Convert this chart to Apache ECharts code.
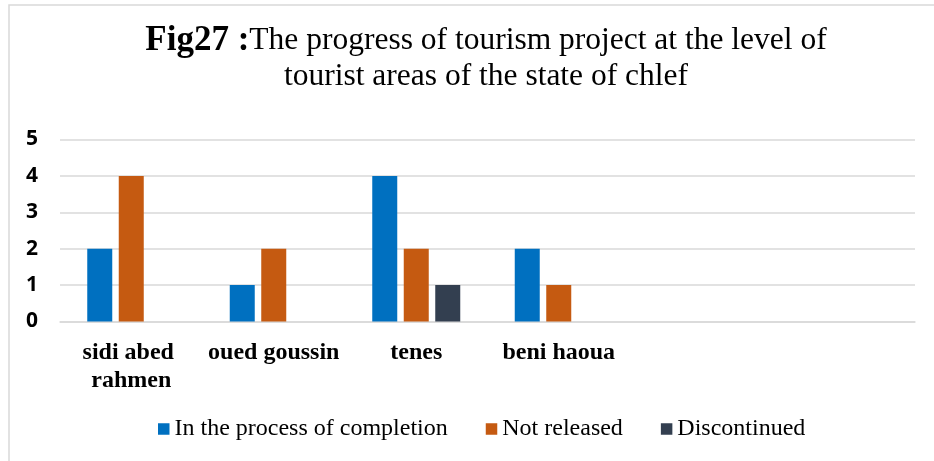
<!DOCTYPE html>
<html>
<head>
<meta charset="utf-8">
<script src="https://cdn.jsdelivr.net/npm/echarts@6/dist/echarts.min.js"></script>
<style>
  html, body { margin: 0; padding: 0; background: #ffffff; }
  #chart { width: 934px; height: 461px; }
</style>
</head>
<body>
<div id="chart"></div>
<script>
// Tourist areas (the last two slots are left empty on the axis)
const areas = ['sidi abed rahmen', 'oued goussin', 'tenes', 'beni haoua', '', ''];

// Number of projects per status
const inProgress   = [2, 1, 4, 2, null, null];
const notReleased  = [4, 2, 2, 1, null, null];
const discontinued = [null, null, 1, null, null, null];

const seriesNames = ['In the process of completion', 'Not released', 'Discontinued'];
const seriesColors = ['#0070C0', '#C55A11', '#333F50'];

const yTicks = { min: 0, max: 5, interval: 1 };

const serif = '"Liberation Serif", "Times New Roman", serif';

const chart = echarts.init(document.getElementById('chart'), null, { renderer: 'canvas' });

function barSeries(name, data, color) {
  return {
    name: name,
    type: 'bar',
    data: data,
    barWidth: 25,
    barGap: '26%',
    itemStyle: { color: color },
    emphasis: { disabled: true }
  };
}

chart.setOption({
  animation: false,
  backgroundColor: '#ffffff',
  graphic: [{
    type: 'rect',
    silent: true,
    shape: { x: 9, y: 5, width: 1200, height: 1200 },
    style: { fill: 'none', stroke: '#d9d9d9', lineWidth: 1.5 }
  }],
  title: {
    text: '{b|Fig27 :}{r|The progress of tourism project at the level of}\n{r|tourist areas of the state of chlef}',
    left: 486,
    top: 23,
    padding: 0,
    textAlign: 'center',
    textStyle: {
      fontFamily: serif,
      color: '#000',
      rich: {
        b: { fontFamily: serif, fontSize: 35, fontWeight: 'bold', color: '#000', lineHeight: 36 },
        r: { fontFamily: serif, fontSize: 31.5, fontWeight: 'normal', color: '#000', lineHeight: 36 }
      }
    }
  },
  legend: {
    data: seriesNames,
    left: 158,
    top: 417,
    padding: 0,
    itemWidth: 11.5,
    itemHeight: 11.5,
    itemGap: 38,
    icon: 'rect',
    selectedMode: false,
    textStyle: { fontFamily: serif, fontSize: 24, color: '#000', padding: [0, 0, 0, 0] }
  },
  grid: { left: 60, right: 19, top: 139.5, bottom: 139.5, containLabel: false },
  xAxis: {
    type: 'category',
    data: areas,
    axisTick: { show: false },
    axisLine: { lineStyle: { color: '#d9d9d9', width: 1.5 } },
    axisLabel: {
      interval: 0,
      margin: 17,
      width: 142,
      overflow: 'break',
      lineHeight: 28,
      fontFamily: serif,
      fontSize: 24,
      fontWeight: 'bold',
      color: '#000'
    }
  },
  yAxis: {
    type: 'value',
    min: yTicks.min,
    max: yTicks.max,
    interval: yTicks.interval,
    axisLine: { show: false },
    axisTick: { show: false },
    splitLine: { lineStyle: { color: '#d9d9d9', width: 1.5 } },
    axisLabel: {
      margin: 22,
      fontFamily: '"Open Sans", "Liberation Sans", sans-serif',
      fontSize: 21,
      fontWeight: 'bold',
      color: '#000'
    }
  },
  series: [
    barSeries(seriesNames[0], inProgress, seriesColors[0]),
    barSeries(seriesNames[1], notReleased, seriesColors[1]),
    barSeries(seriesNames[2], discontinued, seriesColors[2])
  ]
});
</script>
</body>
</html>
